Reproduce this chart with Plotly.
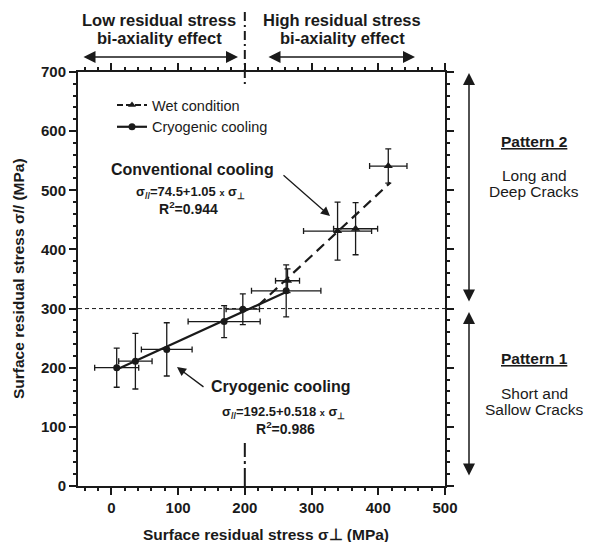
import plotly.graph_objects as go

# ---- data ----
cryo_x = [8, 36, 83, 169, 197, 262]
cryo_y = [200, 211, 231, 278, 299, 330]
cryo_ex = [33, 25, 38, 54, 25, 52]
cryo_ey = [33, 47, 45, 27, 26, 44]

wet_x = [264, 339, 366, 415]
wet_y = [347, 431, 435, 541]
wet_ex = [18, 51, 33, 28]
wet_ey = [20, 49, 44, 29]

cryo_fit_x = [8, 262]
cryo_fit_y = [197, 328]
conv_fit_x = [220, 418]
conv_fit_y = [305, 513]

x_ticks = [0, 100, 200, 300, 400, 500]
y_ticks = [0, 100, 200, 300, 400, 500, 600, 700]

# plot area in pixels
L, R, T, B = 78, 445, 72, 486
W, H = 589, 542


def px(p):
    return (p - L) / (R - L)


def py(p):
    return (B - p) / (B - T)


FONT = "Liberation Sans, Arial, sans-serif"
INK = "#1a1a1a"

fig = go.Figure()

# fitted lines
fig.add_trace(go.Scatter(x=cryo_fit_x, y=cryo_fit_y, mode="lines",
                         line=dict(color=INK, width=2.2), showlegend=False, hoverinfo="skip"))
fig.add_trace(go.Scatter(x=conv_fit_x, y=conv_fit_y, mode="lines",
                         line=dict(color=INK, width=2.2, dash="10px,6px"), showlegend=False,
                         hoverinfo="skip"))

# data with error bars
fig.add_trace(go.Scatter(
    x=cryo_x, y=cryo_y, mode="markers",
    marker=dict(symbol="circle", size=7, color=INK),
    error_x=dict(type="data", array=cryo_ex, color=INK, thickness=1.3, width=3),
    error_y=dict(type="data", array=cryo_ey, color=INK, thickness=1.3, width=3),
    showlegend=False))
fig.add_trace(go.Scatter(
    x=wet_x, y=wet_y, mode="markers",
    marker=dict(symbol="triangle-up", size=8, color=INK),
    error_x=dict(type="data", array=wet_ex, color=INK, thickness=1.3, width=3),
    error_y=dict(type="data", array=wet_ey, color=INK, thickness=1.3, width=3),
    showlegend=False))

# legend entries
fig.add_trace(go.Scatter(x=[None], y=[None], mode="lines+markers", name="Wet condition",
                         line=dict(color=INK, width=2, dash="6px,3px"),
                         marker=dict(symbol="triangle-up", size=7, color=INK)))
fig.add_trace(go.Scatter(x=[None], y=[None], mode="lines+markers", name="Cryogenic cooling",
                         line=dict(color=INK, width=2.2),
                         marker=dict(symbol="circle", size=7, color=INK)))

shapes = [
    dict(type="line", xref="paper", yref="y", x0=0, x1=1, y0=300, y1=300,
         line=dict(color=INK, width=1, dash="4px,3px")),
    dict(type="line", xref="x", yref="paper", x0=200, x1=200, y0=py(12), y1=py(86),
         line=dict(color=INK, width=2, dash="9px,4px,2px,4px")),
    dict(type="line", xref="x", yref="paper", x0=200, x1=200, y0=0, y1=py(443),
         line=dict(color=INK, width=2, dash="18px,4px,3px,4px")),
]

ann = []


def text(x, y, s, size=13, bold=False, xanchor="center"):
    ann.append(dict(x=px(x), y=py(y), xref="paper", yref="paper", text=s, showarrow=False,
                    xanchor=xanchor, yanchor="middle",
                    font=dict(family=FONT, size=size, color=INK,
                              weight="bold" if bold else "normal")))


def arrow(x_tip, y_tip, x_tail, y_tail, double=False, width=1.3, size=1.3):
    d = dict(x=px(x_tip), y=py(y_tip), xref="paper", yref="paper",
             ax=x_tail - x_tip, ay=y_tail - y_tip, axref="pixel", ayref="pixel",
             text="", showarrow=True, arrowhead=2, arrowsize=size, arrowwidth=width,
             arrowcolor=INK)
    if double:
        d.update(arrowside="end+start", startarrowhead=2, startarrowsize=size)
    ann.append(d)


# top header
text(159, 20, "Low residual stress", 16.5, True)
text(159, 38, "bi-axiality effect", 16.5, True)
text(342, 20, "High residual stress", 16.5, True)
text(342, 38, "bi-axiality effect", 16.5, True)
arrow(238, 57, 82, 57, double=True, width=1.5, size=1.6)
arrow(415, 57, 267, 57, double=True, width=1.5, size=1.6)

# right side
arrow(469, 73, 469, 303, double=True, width=1.5, size=1.6)
arrow(469, 312, 469, 477, double=True, width=1.5, size=1.6)
text(534, 141, "<u>Pattern 2</u>", 15.5, True)
text(534, 175, "Long and", 15.5)
text(534, 191, "Deep Cracks", 15.5)
text(534, 358, "<u>Pattern 1</u>", 15.5, True)
text(534, 393, "Short and", 15.5)
text(534, 409, "Sallow Cracks", 15.5)

# in-plot annotations
text(192, 169, "Conventional cooling", 16, True)
text(190, 192, "σ<sub>//</sub>=74.5+1.05 <span style='font-size:9px'>x</span> σ<sub>⊥</sub>", 13, True)
text(188, 208, "R<sup>2</sup>=0.944", 14, True)
arrow(330, 216, 282, 174, width=1.3, size=1.4)

text(281, 386, "Cryogenic cooling", 16, True)
text(283, 412, "σ<sub>//</sub>=192.5+0.518 <span style='font-size:9px'>x</span> σ<sub>⊥</sub>", 13, True)
text(285, 428, "R<sup>2</sup>=0.986", 14, True)
arrow(177, 367, 205, 388, width=1.3, size=1.4)

# axis titles as annotations (fixed positions)
ann.append(dict(x=px(266), y=py(534), xref="paper", yref="paper", showarrow=False,
                text="Surface residual stress σ⊥ (MPa)", xanchor="center", yanchor="middle",
                font=dict(family=FONT, size=15.5, color=INK, weight="bold")))
ann.append(dict(x=px(18), y=py(279), xref="paper", yref="paper", showarrow=False,
                text="Surface residual stress σ// (MPa)", textangle=-90,
                xanchor="center", yanchor="middle",
                font=dict(family=FONT, size=15.5, color=INK, weight="bold")))

axis_common = dict(showline=True, linecolor=INK, linewidth=2, mirror="ticks",
                   ticks="outside", ticklen=7, tickwidth=2, tickcolor=INK,
                   showgrid=False, zeroline=False, automargin=False,
                   tickfont=dict(family=FONT, size=15, color=INK, weight="bold"),
                   minor=dict(ticks="outside", ticklen=3, tickwidth=1.5, tickcolor=INK,
                              dtick=20, showgrid=False))

fig.update_xaxes(range=[-50, 500], tickvals=x_ticks, tick0=0, **axis_common)
fig.update_yaxes(range=[0, 700], tickvals=y_ticks, **axis_common)
fig.update_xaxes(minor=dict(tick0=0))
fig.update_yaxes(minor=dict(tick0=0))

fig.update_layout(
    width=W, height=H,
    margin=dict(l=L, r=W - R, t=T, b=H - B),
    paper_bgcolor="white", plot_bgcolor="white",
    shapes=shapes, annotations=ann,
    font=dict(family=FONT, color=INK),
    legend=dict(x=px(112), y=py(89), xanchor="left", yanchor="top",
                bgcolor="rgba(0,0,0,0)", font=dict(family=FONT, size=14.5, color=INK),
                itemwidth=30, tracegroupgap=0),
    showlegend=True,
)

fig.write_html("out.html")
